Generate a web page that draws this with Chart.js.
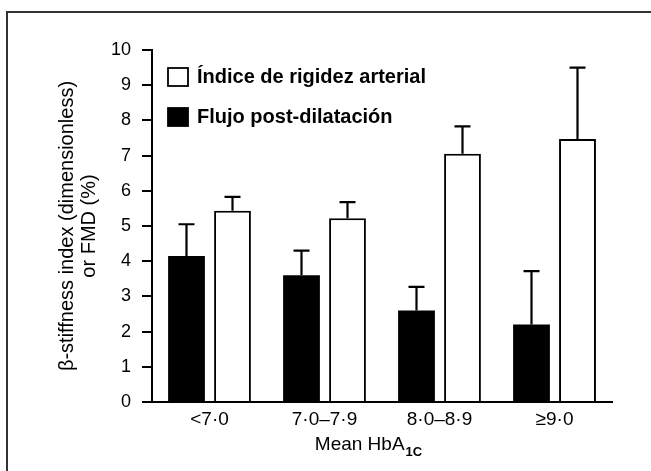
<!DOCTYPE html>
<html><head><meta charset="utf-8">
<script src="https://cdn.jsdelivr.net/npm/chart.js@4.4.0/dist/chart.umd.min.js"></script>
<style>
html,body{margin:0;padding:0;background:#fff;}
#wrap{position:relative;width:651px;height:471px;overflow:hidden;}
#frame{position:absolute;left:6px;top:11px;width:700px;height:500px;border-top:2px solid #333;border-left:2px solid #333;}
canvas{position:absolute;left:0;top:0;}
</style></head><body>
<div id="wrap"><div id="frame"></div><canvas id="c" width="651" height="471"></canvas></div>
<script>
const categories = ['<7·0', '7·0–7·9', '8·0–8·9', '≥9·0'];
const fmdLabel = 'Flujo post-dilatación';
const fmdValues = [4.15, 3.6, 2.6, 2.2];
const fmdErrors = [0.9, 0.7, 0.67, 1.52];
const stiffLabel = 'Índice de rigidez arterial';
const stiffValues = [5.43, 5.22, 7.05, 7.47];
const stiffErrors = [0.4, 0.46, 0.78, 2.03];
const yTickValues = [0, 1, 2, 3, 4, 5, 6, 7, 8, 9, 10];
const yTitle = ['β-stiffness index (dimensionless)', 'or FMD (%)'];
const xTitleMain = 'Mean HbA';
const xTitleSub = '1C';

const FONT = "'Liberation Sans', Arial, sans-serif";

const errorBars = {
  id: 'errorBars',
  afterDatasetsDraw(chart) {
    const ctx = chart.ctx;
    const y = chart.scales.y;
    ctx.save();
    ctx.strokeStyle = '#000';
    ctx.lineWidth = 2.2;
    chart.data.datasets.forEach((ds, i) => {
      const meta = chart.getDatasetMeta(i);
      meta.data.forEach((el, j) => {
        const top = y.getPixelForValue(ds.data[j] + ds.errors[j]);
        const base = y.getPixelForValue(ds.data[j]);
        ctx.beginPath();
        ctx.moveTo(el.x, base);
        ctx.lineTo(el.x, top);
        ctx.moveTo(el.x - 8, top);
        ctx.lineTo(el.x + 8, top);
        ctx.stroke();
      });
    });
    ctx.restore();
  }
};

const customLegend = {
  id: 'customLegend',
  afterDraw(chart) {
    const ctx = chart.ctx;
    const a = chart.chartArea;
    const items = [chart.data.datasets[1], chart.data.datasets[0]];
    const centers = [a.top + 27, a.top + 67];
    ctx.save();
    ctx.font = 'bold 20px ' + FONT;
    ctx.textBaseline = 'middle';
    ctx.textAlign = 'left';
    items.forEach((ds, k) => {
      const cy = centers[k];
      ctx.fillStyle = ds.backgroundColor;
      ctx.fillRect(a.left + 16, cy - 9, 20, 18);
      ctx.strokeStyle = '#000';
      ctx.lineWidth = 1.8;
      ctx.strokeRect(a.left + 16, cy - 9, 20, 18);
      ctx.fillStyle = '#000';
      ctx.fillText(ds.label, a.left + 45, cy);
    });
    ctx.restore();
  }
};

const xTitle = {
  id: 'xTitle',
  afterDraw(chart) {
    const ctx = chart.ctx;
    const a = chart.chartArea;
    ctx.save();
    ctx.fillStyle = '#000';
    ctx.textBaseline = 'alphabetic';
    ctx.font = '19px ' + FONT;
    const w1 = ctx.measureText(xTitleMain).width;
    ctx.font = 'bold 13px ' + FONT;
    const w2 = ctx.measureText(xTitleSub).width;
    const cx = (a.left + a.right) / 2 - 14;
    const x0 = cx - (w1 + w2) / 2;
    ctx.font = '19px ' + FONT;
    ctx.fillText(xTitleMain, x0, 450);
    ctx.font = 'bold 13px ' + FONT;
    ctx.fillText(xTitleSub, x0 + w1 + 1, 456);
    ctx.restore();
  }
};

new Chart(document.getElementById('c'), {
  type: 'bar',
  data: {
    labels: categories,
    datasets: [
      { label: fmdLabel, data: fmdValues, errors: fmdErrors, backgroundColor: '#000', borderColor: '#000', borderWidth: 0 },
      { label: stiffLabel, data: stiffValues, errors: stiffErrors, backgroundColor: '#fff', borderColor: '#000', borderWidth: 2 }
    ]
  },
  options: {
    responsive: false,
    animation: false,
    layout: { padding: { top: 50, right: 39, bottom: 0, left: 0 } },
    plugins: { legend: { display: false }, tooltip: { enabled: false } },
    datasets: { bar: { categoryPercentage: 0.8, barPercentage: 0.8 } },
    scales: {
      x: {
        grid: { display: false },
        border: { display: true, color: '#000', width: 2 },
        ticks: { color: '#000', font: { family: FONT, size: 19 }, padding: -2, maxRotation: 0 },
        afterFit(s) { s.height = 69; }
      },
      y: {
        min: 0, max: 10,
        afterBuildTicks(s) { s.ticks = yTickValues.map(v => ({ value: v })); },
        grid: { drawOnChartArea: false, color: '#000', lineWidth: 2, tickLength: 10 },
        border: { display: true, color: '#000', width: 2 },
        ticks: { color: '#000', font: { family: FONT, size: 18 }, padding: 11 },
        title: { display: true, text: yTitle, color: '#000', font: { family: FONT, size: 20, lineHeight: 1.1 }, padding: { top: 56, bottom: 0 } },
        afterFit(s) { s.width = 152; }
      }
    }
  },
  plugins: [errorBars, customLegend, xTitle]
});
</script>
</body></html>
